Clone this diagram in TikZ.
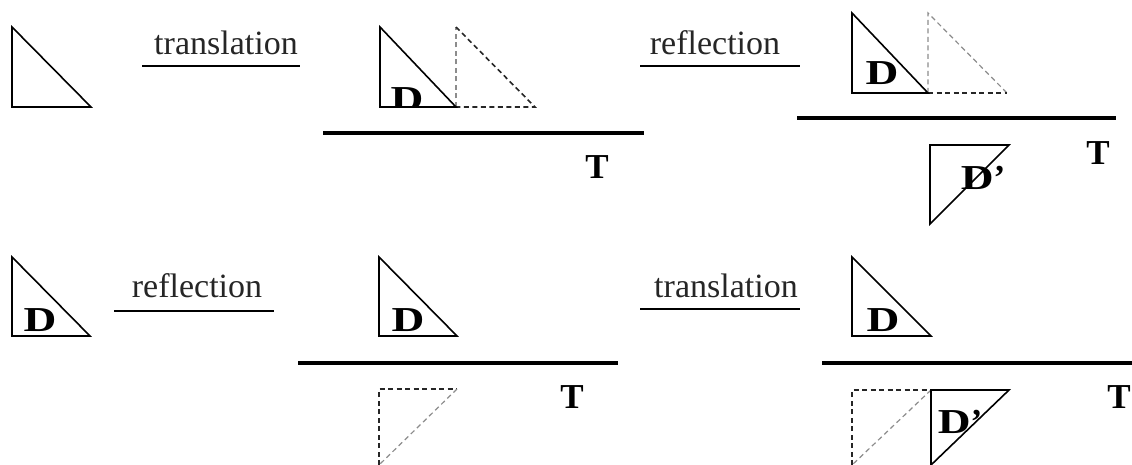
\documentclass[tikz,border=0pt]{standalone}
\usepackage{fontspec}
\setmainfont{Liberation Serif}
\usetikzlibrary{positioning}

\begin{document}
\begin{tikzpicture}[x=1pt, y=-1pt, every node/.style={inner sep=0pt}]
    % Define styles with \tikzset
    \tikzset{
        tri/.style={draw=black, line width=1.6pt},
        ghost/.style={draw=black!85, dash pattern=on 5pt off 3.5pt, line width=1.6pt},
        ghost_faint/.style={ghost, draw=black!45, line width=1.2pt},
        axis_line/.style={line width=4.2pt},
        rule/.style={line width=1.3pt},
        op_word/.style={font=\fontsize{34}{34}\selectfont, text=black!85, anchor=base},
        letter/.style={font=\fontsize{35}{35}\selectfont\bfseries, anchor=base}
    }
    \useasboundingbox (0,0) rectangle (1132,465);

    % --- ROW 1: TRANSLATION THEN REFLECTION ---
    \draw[tri] (12,27) -- (12,107) -- (91,107) -- cycle;
    \node (trans1) [op_word] at (226,55) {translation};
    \draw[rule] (142,66) -- (300,66);

    % translated copy
    \draw[ghost_faint] (456,107) -- (456,27);
    \draw[ghost] (456,27) -- (535,107) -- (456,107);
    \begin{scope}
        \clip (380,27) -- (380,107) -- (456,107) -- (456,27) -- cycle;
        \node (d1) [letter] at (407,111) {\scalebox{1.3}[1]{D}};
    \end{scope}
    \draw[tri] (380,27) -- (380,107) -- (456,107) -- cycle;
    \draw[axis_line] (323,133) -- (644,133);
    \node (t1) [letter] at (597,179) {T};

    % reflected copy
    \node (refl1) [op_word] at (715,55) {reflection};
    \draw[rule] (640,66) -- (800,66);
    \draw[ghost_faint] (928,93) -- (928,13) -- (1007,93);
    \draw[ghost] (928,93) -- (1007,93);
    \draw[tri] (852,13) -- (852,93) -- (928,93) -- cycle;
    \node (d2) [letter] at (882,85) {\scalebox{1.3}[1]{D}};
    \draw[axis_line] (797,118) -- (1116,118);
    \node (d2r) [letter] at (983,190) {\scalebox{1.3}[1]{D}'};
    \draw[tri] (930,145) -- (1009,145) -- (930,224) -- cycle;
    \node (t2) [letter] at (1098,165) {T};

    % --- ROW 2: REFLECTION THEN TRANSLATION ---
    \draw[tri] (12,257) -- (12,336) -- (90,336) -- cycle;
    \node (d3) [letter] at (40,331) {\scalebox{1.3}[1]{D}};
    \node (refl2) [op_word] at (197,297) {reflection};
    \draw[rule] (114,311) -- (274,311);

    % reflected copy
    \draw[tri] (379,257) -- (379,336) -- (457,336) -- cycle;
    \node (d4) [letter] at (408,331) {\scalebox{1.3}[1]{D}};
    \draw[axis_line] (298,363) -- (618,363);
    \draw[ghost] (379,465) -- (379,389) -- (457,389);
    \draw[ghost_faint] (457,389) -- (379,465);
    \node (t3) [letter] at (572,408) {T};

    % translated copy
    \node (trans2) [op_word] at (726,297) {translation};
    \draw[rule] (640,309) -- (800,309);
    \draw[tri] (852,257) -- (852,336) -- (931,336) -- cycle;
    \node (d5) [letter] at (883,331) {\scalebox{1.3}[1]{D}};
    \draw[axis_line] (822,363) -- (1132,363);
    \draw[ghost] (852,465) -- (852,390) -- (931,390);
    \draw[ghost_faint] (931,390) -- (852,465);
    \node (d5r) [letter] at (960,433) {\scalebox{1.3}[1]{D}'};
    \draw[tri] (931,390) -- (1009,390) -- (931,465) -- cycle;
    \node (t4) [letter] at (1119,408) {T};
\end{tikzpicture}
\end{document}
